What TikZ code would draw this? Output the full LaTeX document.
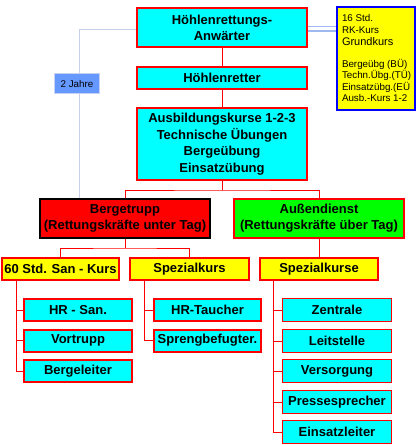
\documentclass[tikz,border=0pt]{standalone}
\usepackage{fontspec}
\setmainfont{Liberation Sans}
\usetikzlibrary{backgrounds}
\pgfdeclarelayer{bottom}
\pgfsetlayers{bottom,background,main}
\definecolor{cyanbox}{RGB}{0,255,255}
\definecolor{redbox}{RGB}{255,0,0}
\definecolor{greenbox}{RGB}{0,255,0}
\definecolor{yellowbox}{RGB}{255,255,0}
\definecolor{bluebox}{RGB}{102,153,255}
\definecolor{paleline}{RGB}{200,208,240}
\definecolor{dblline}{RGB}{160,184,240}
\definecolor{bluedge}{RGB}{0,0,255}
\tikzset{
  every node/.style={inner sep=0pt, outer sep=0pt, align=center},
  bigfont/.style={font=\fontsize{13}{16}\selectfont\bfseries},
  cbox/.style={draw=redbox, line width=2pt, fill=cyanbox, bigfont},
  cthin/.style={draw=redbox, line width=1pt, fill=cyanbox, bigfont},
  ybox/.style={draw=redbox, line width=2pt, fill=yellowbox, bigfont},
  conn/.style={draw=redbox, line width=0.9pt},
  pale/.style={draw=paleline, line width=1pt},
}
\begin{document}
\begin{tikzpicture}[x=1pt,y=-1pt]
\useasboundingbox (0,0) rectangle (417,445);
\begin{pgfonlayer}{bottom}
\fill[white] (0,0) rectangle (417,445);
\end{pgfonlayer}
% top column
\node[cbox, minimum width=170pt, minimum height=39pt] (anw) at (222,27.5) {Höhlenrettungs-\\Anwärter};
\node[cbox, minimum width=170pt, minimum height=22pt] (hr) at (222,78) {Höhlenretter};
\node[cbox, minimum width=170pt, minimum height=72pt, font=\fontsize{13}{16.5}\selectfont\bfseries] (ausb) at (222,144) {Ausbildungskurse 1-2-3\\Technische Übungen\\Bergeübung\\Einsatzübung};
% info box
\node[draw=bluedge, line width=2pt, fill=yellowbox, minimum width=78pt, minimum height=103pt] (info) at (376,58.5) {};
\node[anchor=north west, align=left, font=\fontsize{9.8}{11.5}\selectfont] (infotext) at (342,14.5) {16 Std.\\RK-Kurs\\[1pt]{\fontsize{11}{12}\selectfont Grundkurs}\\[10pt]Bergeübg (BÜ)\\Techn.Übg.(TÜ)\\Einsatzübg.(EÜ\\Ausb.-Kurs 1-2};
% 2 Jahre
\node[draw=paleline, line width=1pt, fill=bluebox, minimum width=45pt, minimum height=20pt, font=\fontsize{9.8}{11}\selectfont] (jahre) at (77,83.5) {2 Jahre};
% second level
\node[draw=black, line width=2pt, fill=redbox, minimum width=170pt, minimum height=39pt, bigfont] (berg) at (125,218.5) {Bergetrupp\\(Rettungskräfte unter Tag)};
\node[draw=redbox, line width=2pt, fill=greenbox, minimum width=170pt, minimum height=39pt, bigfont] (auss) at (319,218.5) {Außendienst\\(Rettungskräfte über Tag)};
% third level
\node[ybox, minimum width=117pt, minimum height=22pt] (std) at (60.5,269) {60 Std. San - Kurs};
\node[ybox, minimum width=119pt, minimum height=22pt] (spk) at (189.5,269) {Spezialkurs};
\node[ybox, minimum width=118pt, minimum height=22pt] (spks) at (319,269) {Spezialkurse};
% leaves
\node[cbox, minimum width=108pt, minimum height=22pt] (hrsan) at (78,310) {HR - San.};
\node[cbox, minimum width=108pt, minimum height=22pt] (vor) at (78,340.5) {Vortrupp};
\node[cbox, minimum width=108pt, minimum height=22pt] (bl) at (78,371) {Bergeleiter};
\node[cbox, minimum width=107pt, minimum height=22pt] (hrt) at (207.5,310) {HR-Taucher};
\node[cbox, minimum width=107pt, minimum height=22pt] (spr) at (207.5,340.5) {Sprengbefugter.};
\node[cthin, minimum width=109pt, minimum height=23pt] (zen) at (337,310) {Zentrale};
\node[cthin, minimum width=109pt, minimum height=23pt] (lei) at (337,341) {Leitstelle};
\node[cthin, minimum width=109pt, minimum height=23pt] (ver) at (337,371) {Versorgung};
\node[cthin, minimum width=109pt, minimum height=23pt] (pre) at (337,402) {Pressesprecher};
\node[cthin, minimum width=109pt, minimum height=23pt] (ein) at (337,432) {Einsatzleiter};
% junction coordinates
\coordinate (j1) at (222,190);
\coordinate (j2) at (125,248);
\coordinate (s1) at (16,281);
\coordinate (s2) at (144,281);
\coordinate (s3) at (273,281);
\coordinate (pl) at (79,198);
\begin{pgfonlayer}{background}
\draw[pale] (anw.west |- 0,29) -| (pl);
\draw[draw=dblline, double=white, line width=1.5pt, double distance=3pt] (anw.east |- 0,28.5) -- (info.west |- 0,28.5);
\draw[conn] (anw) -- (hr);
\draw[conn] (hr) -- (ausb);
\draw[conn] (ausb.south) -- (j1);
\draw[conn] (berg.north) |- (j1) -| (auss.north);
\draw[conn] (berg.south) -- (j2);
\draw[conn] (std.north) |- (j2) -| (spk.north);
\draw[conn] (auss.south) -- (spks.north);
\draw[conn] (s1) |- (hrsan.west);
\draw[conn] (s1) |- (vor.west);
\draw[conn] (s1) |- (bl.west);
\draw[conn] (s2) |- (hrt.west);
\draw[conn] (s2) |- (spr.west);
\draw[conn] (s3) |- (zen.west);
\draw[conn] (s3) |- (lei.west);
\draw[conn] (s3) |- (ver.west);
\draw[conn] (s3) |- (pre.west);
\draw[conn] (s3) |- (ein.west);
\end{pgfonlayer}
\end{tikzpicture}
\end{document}
